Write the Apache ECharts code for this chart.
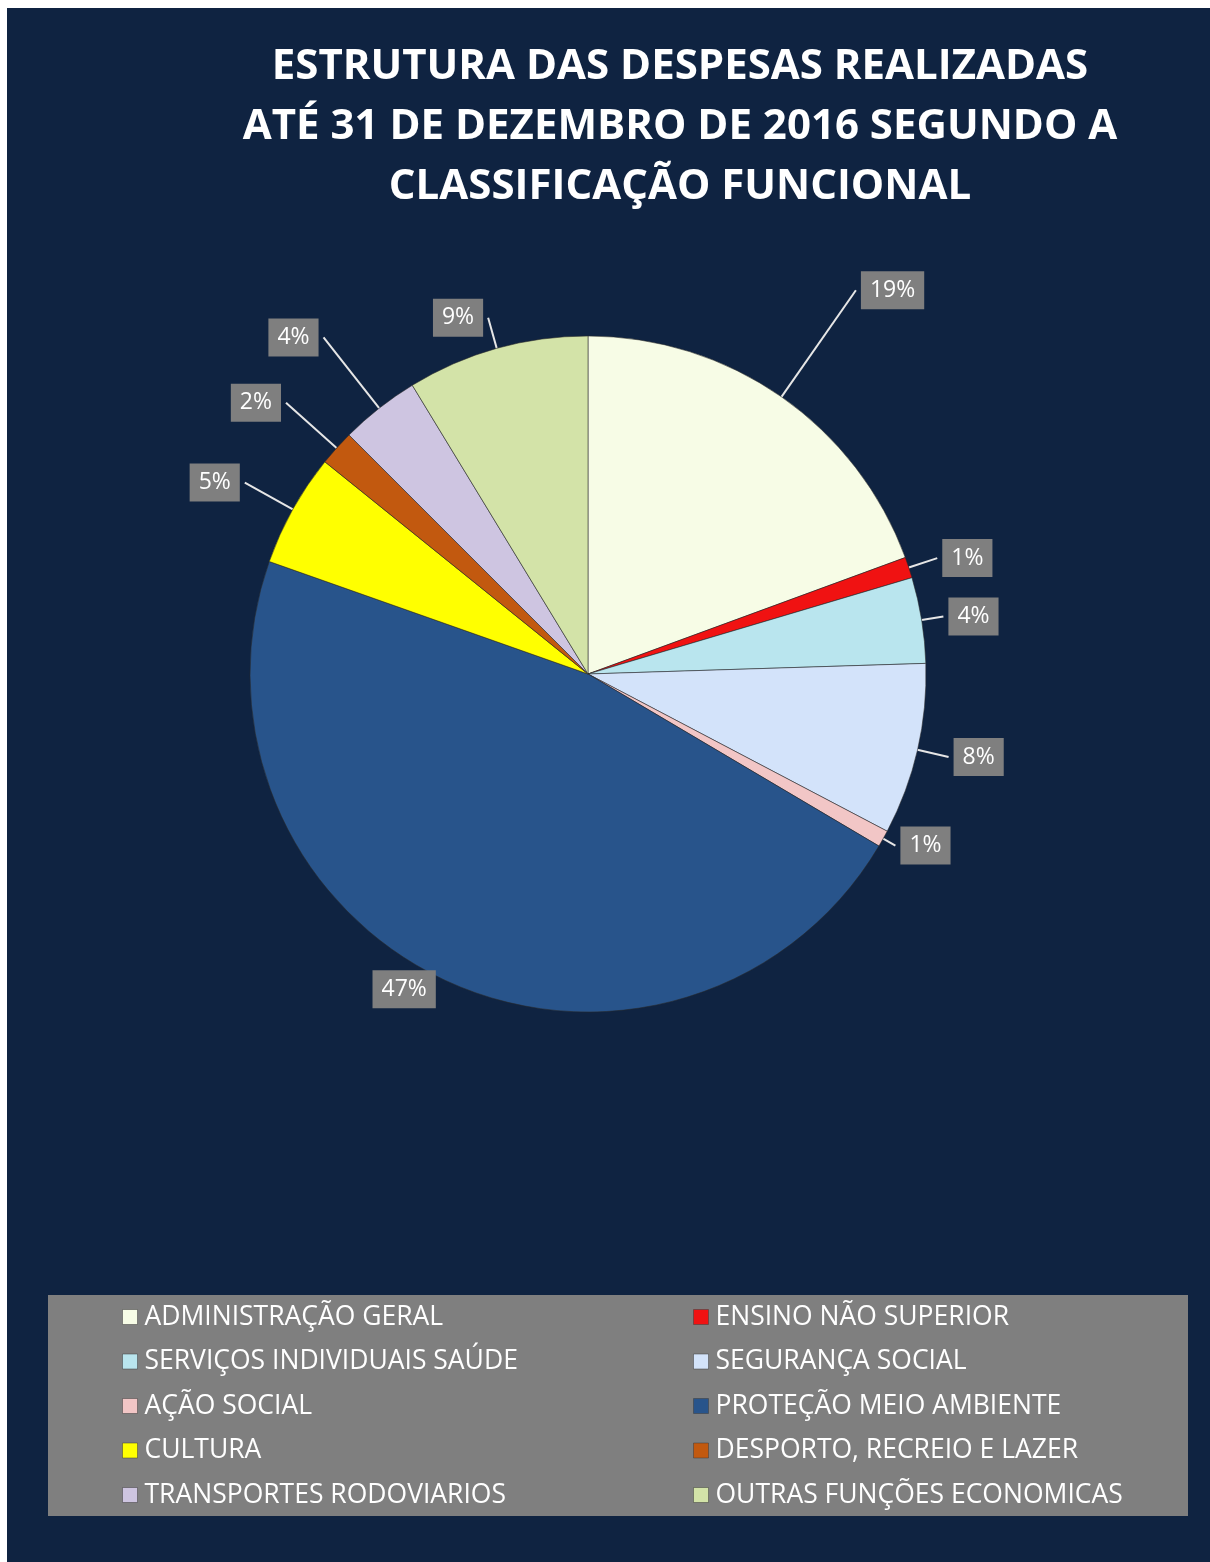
<!DOCTYPE html>
<html>
<head>
<meta charset="utf-8">
<script src="https://cdn.jsdelivr.net/npm/echarts@6/dist/echarts.min.js"></script>
<style>
    html, body { margin: 0; padding: 0; background: #ffffff; }
    #chart { position: absolute; left: 7px; top: 8px; width: 1203px; height: 1554px; }
</style>
</head>
<body>
<div id="chart"></div>
<script>
const titleLines = [
    'ESTRUTURA DAS DESPESAS REALIZADAS',
    'ATÉ 31 DE DEZEMBRO DE 2016 SEGUNDO A',
    'CLASSIFICAÇÃO FUNCIONAL',
]

const categories = [
    'ADMINISTRAÇÃO GERAL',
    'ENSINO NÃO SUPERIOR',
    'SERVIÇOS INDIVIDUAIS SAÚDE',
    'SEGURANÇA SOCIAL',
    'AÇÃO SOCIAL',
    'PROTEÇÃO MEIO AMBIENTE',
    'CULTURA',
    'DESPORTO, RECREIO E LAZER',
    'TRANSPORTES RODOVIARIOS',
    'OUTRAS FUNÇÕES ECONOMICAS',
]

// share of total, in percent
const shares = [19.4, 1.0, 4.1, 8.2, 0.8, 46.9, 5.4, 1.7, 3.8, 8.7]

const sliceColors = [
    '#f7fce6', '#f01212', '#b9e5ee', '#d3e3fa', '#f2c6c6',
    '#28548b', '#ffff00', '#c2590f', '#cec5e1', '#d3e3a8',
]

// leader line lengths per slice [radial, horizontal], to sit the boxes near where Excel put them
const leaderLen = [
    [130, 0], [30, 0], [22, 0], [32, 0], [14, 0],
    [10, 0], [55, 0], [68, 0], [90, 0], [32, 0],
]

const bg = '#0f2341'
const boxGray = '#7f7f7f'
const font = '"Open Sans", "Liberation Sans", sans-serif'

const chart = echarts.init(document.getElementById('chart'))

const leftNames = categories.filter((_, i) => i % 2 === 0)
const rightNames = categories.filter((_, i) => i % 2 === 1)

function legendBlock(names, left) {
    return {
        data: names,
        orient: 'vertical',
        left: left,
        top: 1294,
        padding: 0,
        icon: 'rect',
        itemWidth: 15,
        itemHeight: 15,
        itemGap: 14.5,
        selectedMode: false,
        itemStyle: { borderColor: 'rgba(60,60,60,0.5)', borderWidth: 1 },
        textStyle: { color: '#ffffff', fontSize: 26.5, fontFamily: font, lineHeight: 30, padding: [0, 0, 0, 2] },
    }
}

chart.setOption({
    backgroundColor: bg,
    animation: false,
    title: {
        text: titleLines.join('\n'),
        left: 668,
        top: 24,
        textAlign: 'center',
        textStyle: {
            color: '#ffffff',
            fontSize: 42,
            fontWeight: 'bold',
            fontFamily: font,
            lineHeight: 60,
            align: 'center',
        },
    },
    graphic: [
        {
            type: 'rect',
            z: 0,
            shape: { x: 41, y: 1287, width: 1140, height: 221 },
            style: { fill: boxGray },
        },
    ],
    legend: [legendBlock(leftNames, 115), legendBlock(rightNames, 686)],
    series: [
        {
            type: 'pie',
            center: [581, 666],
            radius: 338,
            startAngle: 90,
            clockwise: true,
            z: 3,
            avoidLabelOverlap: false,
            data: categories.map((name, i) => ({
                name,
                value: shares[i],
                itemStyle: { color: sliceColors[i] },
                labelLine: {
                    show: i !== 5,
                    length: leaderLen[i][0],
                    length2: leaderLen[i][1],
                },
            })),
            itemStyle: {
                borderColor: 'rgba(40,40,40,0.55)',
                borderWidth: 1,
            },
            label: {
                show: true,
                position: 'outside',
                formatter: (p) => Math.round(p.percent) + '%',
                color: '#ffffff',
                fontSize: 23,
                fontFamily: font,
                backgroundColor: boxGray,
                padding: [8, 9, 7, 9],
            },
            labelLine: {
                show: true,
                lineStyle: { color: '#e6e6e6', width: 2 },
            },
            emphasis: { disabled: true },
        },
    ],
})
</script>
</body>
</html>
